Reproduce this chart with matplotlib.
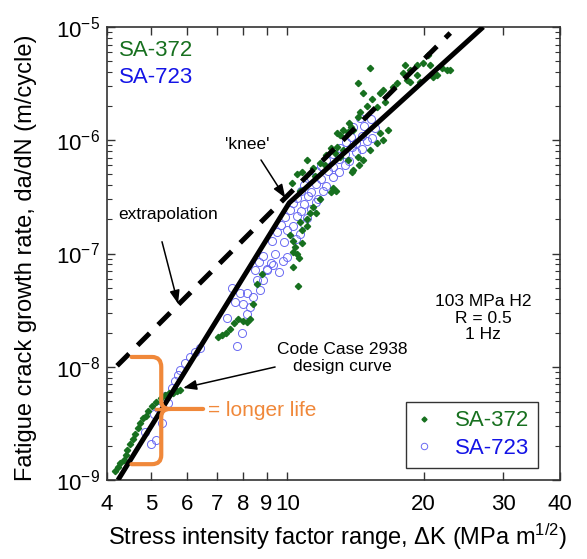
import numpy as np
import matplotlib
matplotlib.use("Agg")
import matplotlib.pyplot as plt
from matplotlib.path import Path
from matplotlib.patches import PathPatch
from matplotlib.ticker import FixedLocator, NullLocator, LogLocator, FuncFormatter, NullFormatter

plt.rcParams['font.family'] = ['Liberation Sans', 'DejaVu Sans']
plt.rcParams['mathtext.default'] = 'regular'

# ---- data ----
# SA-372 (green points)
sa372_dk = [4.16, 4.23, 4.27, 4.36, 4.41, 4.43, 4.50, 4.57, 4.61, 4.68, 4.73, 4.80, 4.88, 4.93,
            5.03, 5.13, 5.26, 5.37, 5.48, 5.60, 5.71, 5.80,
            7.03, 7.17, 7.32, 7.47, 7.63, 7.78, 7.97, 8.14, 8.27, 8.40, 8.58, 8.80, 10.56,
            10.25, 10.5, 10.8, 11.05, 11.4, 11.8, 12.2, 12.5, 12.9, 12.75, 13.1, 13.6, 13.7, 14.0,
            12.9, 13.3, 13.8, 14.3, 14.5, 15.0, 15.4, 16.0, 16.3, 17.1, 17.5, 18.0, 18.7, 19.3,
            19.9, 20.7, 21.4, 22.5, 20.5, 18.2, 14.3, 15.2, 14.7, 15.8, 16.4, 18.4, 19.3, 19.6,
            18.7, 22.0, 22.9, 21.0, 10.67, 11.5, 12.1,
            11.6, 11.4, 12.5, 12.6, 11.05, 11.05, 10.8, 10.3, 10.4, 10.3, 10.5, 10.3, 10.14,
            14.0, 13.9, 10.67, 11.2, 11.8, 14.7, 15.2, 15.8, 16.3, 16.7, 16.0, 13.3, 13.1, 14.4,
            12.8, 10.8, 10.6, 13.6, 14.3]
sa372_dadn = [1.2e-9, 1.3e-9, 1.42e-9, 1.5e-9, 1.67e-9, 1.85e-9, 2.06e-9, 2.3e-9, 2.55e-9, 2.9e-9,
              3.2e-9, 3.5e-9, 3.7e-9, 4.1e-9, 4.5e-9, 4.9e-9, 5.3e-9, 5.6e-9, 5.9e-9, 5.9e-9,
              6.1e-9, 6.2e-9,
              1.83e-8, 1.9e-8, 1.99e-8, 2.15e-8, 2.43e-8, 2.64e-8, 2.53e-8, 2.48e-8, 2.64e-8,
              3.58e-8, 5.38e-8, 6.59e-8, 5.16e-8,
              4.2e-7, 5.0e-7, 5.2e-7, 6.7e-7, 5.7e-7, 6.3e-7, 7.4e-7, 8.5e-7, 8.7e-7, 7.7e-7,
              1.11e-6, 1.18e-6, 1.42e-6, 1.23e-6, 1.16e-6, 1.23e-6, 1.31e-6, 1.6e-6, 1.78e-6,
              2.0e-6, 2.3e-6, 2.6e-6, 2.8e-6, 2.95e-6, 3.2e-6, 3.95e-6, 4.2e-6, 4.6e-6, 4.8e-6,
              4.6e-6, 3.8e-6, 4.2e-6, 5.7e-6, 4.6e-6, 3.2e-6, 4.35e-6, 2.6e-6, 1.96e-6, 2.16e-6,
              3.4e-6, 3.8e-6, 3.26e-6, 3.26e-6, 4.37e-6, 4.2e-6, 3.65e-6, 3.6e-7, 4.8e-7, 6.05e-7,
              2.26e-7, 2.6e-7, 3.46e-7, 3.8e-7, 2.0e-7, 1.74e-7, 1.6e-7, 1.3e-7, 1.13e-7, 1.03e-7,
              1.0e-7, 7.6e-8, 1.45e-7, 5.5e-7, 5.2e-7, 1.88e-7, 2.26e-7, 3.0e-7, 6.7e-7, 8.2e-7,
              9.4e-7, 1.0e-6, 1.23e-6, 1.16e-6, 8.2e-7, 7.1e-7, 6.05e-7,
              3.6e-7, 1.25e-7, 9.1e-8, 6.7e-7, 7.1e-7]

# SA-723 (blue open circles)
sa723_dk = [4.85, 5.00, 5.13, 5.08, 5.29, 5.45, 5.19, 5.37, 5.57, 5.65, 5.74, 5.80, 5.95, 6.10, 6.26, 6.42,
            7.55, 7.86, 7.67, 7.36, 8.14, 8.27, 7.94, 7.74, 8.40, 8.58, 8.84, 8.71, 9.00, 9.30, 8.14, 7.98,
            8.49, 9.02, 9.59, 8.66, 9.21, 9.79, 8.84, 9.40, 9.99, 9.26, 9.84, 10.45,
            9.50, 10.0, 10.67, 9.69, 10.3, 10.9, 9.89, 10.5, 11.05, 10.14, 10.7, 11.3,
            10.3, 10.9, 11.6, 10.5, 11.1, 11.7, 10.7, 11.3, 12.0, 10.9, 11.6, 12.2,
            11.3, 11.9, 12.6, 11.6, 12.3, 13.0, 11.9, 12.6, 13.4, 12.2, 13.0, 13.7,
            12.6, 13.4, 14.2, 13.1, 13.9, 14.6, 13.5, 14.2, 15.0, 13.8, 14.6, 15.4,
            14.0, 14.8, 15.6, 14.5, 15.3]
sa723_dadn = [2.65e-9, 2.1e-9, 2.25e-9, 3.85e-9, 3.2e-9, 4.8e-9, 4.3e-9, 5.5e-9, 6.45e-9, 7.45e-9,
              8.5e-9, 9.4e-9, 1.08e-8, 1.22e-8, 1.34e-8, 1.46e-8,
              5.0e-8, 4.5e-8, 3.75e-8, 2.7e-8, 2.9e-8, 3.4e-8, 1.97e-8, 1.53e-8, 4.15e-8, 5.8e-8,
              5.8e-8, 4.8e-8, 7.1e-8, 7.9e-8, 4.5e-8, 3.6e-8,
              7.1e-8, 7.3e-8, 6.9e-8, 8.4e-8, 8.2e-8, 8.6e-8, 9.6e-8, 9.9e-8, 9.4e-8, 1.3e-7, 1.27e-7, 1.33e-7,
              1.55e-7, 1.6e-7, 1.5e-7, 1.8e-7, 1.76e-7, 1.84e-7, 2.1e-7, 2.15e-7, 2.05e-7, 2.4e-7, 2.35e-7, 2.45e-7,
              2.8e-7, 2.75e-7, 2.85e-7, 3.1e-7, 3.2e-7, 3.05e-7, 3.56e-7, 3.5e-7, 3.6e-7, 4.05e-7, 4.1e-7, 3.95e-7,
              4.65e-7, 4.55e-7, 4.75e-7, 5.3e-7, 5.4e-7, 5.2e-7, 5.9e-7, 5.8e-7, 6.0e-7, 6.7e-7, 6.8e-7, 6.5e-7,
              7.6e-7, 7.5e-7, 7.8e-7, 8.5e-7, 8.7e-7, 8.3e-7, 9.7e-7, 9.5e-7, 9.9e-7, 1.07e-6, 1.09e-6, 1.05e-6,
              1.31e-6, 1.33e-6, 1.28e-6, 1.57e-6, 1.55e-6]

# ASME Code Case 2938 design curve (bilinear) and its extrapolation
design_dk = [4.23, 10.1, 27.07]
design_dadn = [1.0e-9, 2.8e-7, 1.0e-5]
extrap_dk = [4.21, 22.9]
extrap_dadn = [1.02e-8, 8.85e-6]

xticks = [4, 5, 6, 7, 8, 9, 10, 20, 30, 40]
xticklabels = ['4', '5', '6', '7', '8', '9', '10', '20', '30', '40']

# curly brace "= longer life"
brace_dk = [4.53, 5.03, 5.27, 5.51, 6.52, 5.13]
brace_dadn = [1.22e-8, 9.95e-9, 4.99e-9, 4.24e-9, 3.6e-9, 1.66e-9, 1.38e-9]

green = '#17701f'
blue_txt = '#1414e6'
blue_pt = '#6a6af2'
orange = '#f0883a'

fig = plt.figure(figsize=(5.87, 5.59), dpi=100)
ax = fig.add_axes([0.1823, 0.1413, 0.7717, 0.8104])

ax.plot(sa723_dk, sa723_dadn, 'o', ms=5.8, mfc='none', mec=blue_pt, mew=0.7, label='SA-723', zorder=2)
ax.plot(sa372_dk, sa372_dadn, 'D', ms=3.2, color=green, mec=green, label='SA-372', zorder=3)

ax.plot(design_dk, design_dadn, '-', color='k', lw=3.6, solid_capstyle='butt', zorder=4)
ax.plot(extrap_dk, extrap_dadn, color='k', lw=3.6, linestyle=(0, (3.4, 2.4)), zorder=4)

# brace
bx, by = brace_dk, brace_dadn
top = Path([(bx[0], by[0]), (bx[1], by[0]), (bx[2], by[0]), (bx[2], by[1]), (bx[2], by[2]),
            (bx[2], by[3]), (bx[3], by[3]), (bx[4], by[3])],
           [Path.MOVETO, Path.LINETO, Path.CURVE3, Path.CURVE3, Path.LINETO,
            Path.CURVE3, Path.CURVE3, Path.LINETO])
bot = Path([(bx[0], by[6]), (bx[1], by[6]), (bx[2], by[6]), (bx[2], by[5]), (bx[2], by[4]),
            (bx[2], by[3]), (bx[3], by[3])],
           [Path.MOVETO, Path.LINETO, Path.CURVE3, Path.CURVE3, Path.LINETO,
            Path.CURVE3, Path.CURVE3])
for p in (top, bot):
    ax.add_patch(PathPatch(p, fc='none', ec=orange, lw=3, capstyle='round', joinstyle='round', zorder=5))
ax.plot([bx[5], bx[2]], [by[3], by[3]], color=orange, lw=2.5, zorder=5)
ax.text(6.68, 4.1e-9, '= longer life', color=orange, fontsize=15, va='center', ha='left')

# annotations
arrow = dict(arrowstyle='-|>,head_length=0.8,head_width=0.3', color='k', lw=1.1, shrinkA=0, shrinkB=0)
ax.text(8.14, 9.1e-7, "'knee'", fontsize=12.5, ha='center', va='center')
ax.annotate('', xy=(9.9, 3.1e-7), xytext=(8.75, 6.7e-7), arrowprops=arrow)
ax.text(5.45, 2.19e-7, 'extrapolation', fontsize=12.5, ha='center', va='center')
ax.annotate('', xy=(5.74, 3.6e-8), xytext=(5.29, 1.27e-7), arrowprops=arrow)
ax.text(13.24, 1.19e-8, 'Code Case 2938\ndesign curve', fontsize=12.5, ha='center', va='center',
        linespacing=1.15)
ax.annotate('', xy=(5.89, 6.5e-9), xytext=(9.4, 9.95e-9), arrowprops=arrow)
ax.text(27.07, 2.69e-8, '103 MPa H2\nR = 0.5\n1 Hz', fontsize=12.5, ha='center', va='center',
        linespacing=1.15)

ax.text(0.026, 0.949, 'SA-372', color=green, fontsize=16, transform=ax.transAxes, va='center')
ax.text(0.026, 0.888, 'SA-723', color=blue_txt, fontsize=16, transform=ax.transAxes, va='center')

# axes
ax.set_xscale('log')
ax.set_yscale('log')
ax.set_xlim(4, 40)
ax.set_ylim(1e-9, 1e-5)
ax.xaxis.set_major_locator(FixedLocator(xticks))
ax.xaxis.set_minor_locator(NullLocator())
ax.set_xticklabels(xticklabels)
ax.yaxis.set_major_locator(LogLocator(base=10))
ax.yaxis.set_minor_locator(LogLocator(base=10, subs=np.arange(2, 10)))
ax.yaxis.set_minor_formatter(NullFormatter())
ax.yaxis.set_major_formatter(FuncFormatter(lambda v, p: '$10^{%d}$' % round(np.log10(v))))
ax.tick_params(which='both', direction='in', top=True, right=True, labelsize=16, color='#333333')
ax.tick_params(which='major', length=6, width=1)
ax.tick_params(which='minor', length=3.5, width=0.8)
ax.tick_params(axis='x', pad=10)
ax.tick_params(axis='y', pad=5)
for s in ax.spines.values():
    s.set_linewidth(1.2)
    s.set_color('#333333')

ax.set_xlabel('Stress intensity factor range, $\\Delta$K (MPa m$^{1/2}$)', fontsize=17)
ax.set_ylabel('Fatigue crack growth rate, da/dN (m/cycle)', fontsize=17)
ax.xaxis.set_label_coords(0.509, -0.093)
ax.yaxis.set_label_coords(-0.155, 0.49)

leg = ax.legend(handles=ax.lines[1::-1], loc='lower right', bbox_to_anchor=(0.951, 0.0265),
                borderaxespad=0, fontsize=16, frameon=True, fancybox=False, edgecolor='k',
                handlelength=0.8, handletextpad=1.0, borderpad=0.4, labelspacing=0.3,
                markerscale=0.8)
leg.get_frame().set_linewidth(1.0)
for t, c in zip(leg.get_texts(), [green, blue_txt]):
    t.set_color(c)

fig.savefig('out.png', dpi=100)
